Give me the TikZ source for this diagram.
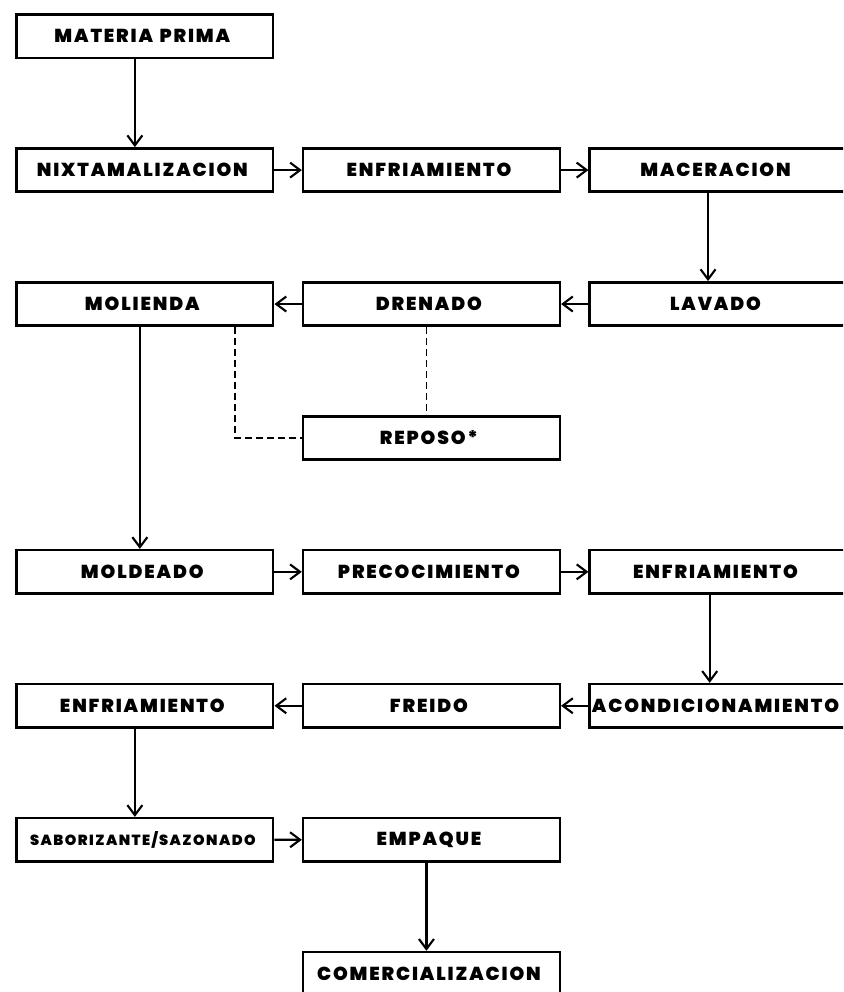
\documentclass[tikz,border=0pt]{standalone}
\usepackage{fontspec}
\newfontfamily\boxfont[LetterSpace=10]{Poppins Black}
\usetikzlibrary{matrix,positioning,arrows.meta}
\tikzset{
    every node/.style={font=\boxfont\fontsize{16}{18}\selectfont},
    stepbox/.style={draw=black, line width=2.2pt, minimum width=7.7cm, minimum height=1.3cm, inner sep=0pt, align=center},
    smalltext/.style={font=\boxfont\fontsize{12.5}{14}\selectfont},
    arrow/.style={-{Straight Barb[length=3mm,width=4.5mm]}, line width=1.8pt},
    dashline/.style={line width=1.6pt, dash pattern=on 2mm off 1.3mm},
}
\begin{document}
\begin{tikzpicture}[x=0.03cm, y=-0.03cm]
% page frame (reference proportions)
\path[use as bounding box, clip] (0,0) rectangle (843,992);
\matrix (flow) [matrix of nodes, nodes={stepbox}, row sep=2.64cm, column sep=0.82cm, inner sep=0pt, anchor=north west] at (15,13) {
  MATERIA\hspace{0.35em}PRIMA & & \\
  NIXTAMALIZACION & ENFRIAMIENTO & MACERACION \\
  MOLIENDA & DRENADO & LAVADO \\
  & REPOSO* & \\
  MOLDEADO & PRECOCIMIENTO & ENFRIAMIENTO \\
  ENFRIAMIENTO & FREIDO & ACONDICIONAMIENTO \\
  |[smalltext]| SABORIZANTE/SAZONADO & EMPAQUE & \\
  & COMERCIALIZACION & \\
};

% vertical steps
\draw[arrow] ([xshift=-3mm]flow-1-1.south) -- ([xshift=-3mm]flow-2-1.north);
\draw[arrow] ([xshift=-3mm]flow-2-3.south) -- ([xshift=-3mm]flow-3-3.north);
\draw[arrow] ([xshift=-1.5mm]flow-3-1.south) -- ([xshift=-1.5mm]flow-5-1.north);
\draw[arrow] ([xshift=-2.5mm]flow-5-3.south) -- ([xshift=-2.5mm]flow-6-3.north);
\draw[arrow] ([xshift=-3mm]flow-6-1.south) -- ([xshift=-3mm]flow-7-1.north);
\draw[arrow] ([xshift=-1.5mm]flow-7-2.south) -- ([xshift=-1.5mm]flow-8-2.north);

% horizontal steps
\draw[arrow] (flow-2-1) -- (flow-2-2);
\draw[arrow] (flow-2-2) -- (flow-2-3);
\draw[arrow] (flow-3-3) -- (flow-3-2);
\draw[arrow] (flow-3-2) -- (flow-3-1);
\draw[arrow] (flow-5-1) -- (flow-5-2);
\draw[arrow] (flow-5-2) -- (flow-5-3);
\draw[arrow] (flow-6-3) -- (flow-6-2);
\draw[arrow] (flow-6-2) -- (flow-6-1);
\draw[arrow] (flow-7-1) -- (flow-7-2);

% optional rest
\draw[dashline] ([xshift=2.7cm]flow-3-1.south) |- (flow-4-2.west);
\draw[dashline] ([xshift=-1.5mm]flow-3-2.south) -- ([xshift=-1.5mm]flow-4-2.north);
\end{tikzpicture}
\end{document}
